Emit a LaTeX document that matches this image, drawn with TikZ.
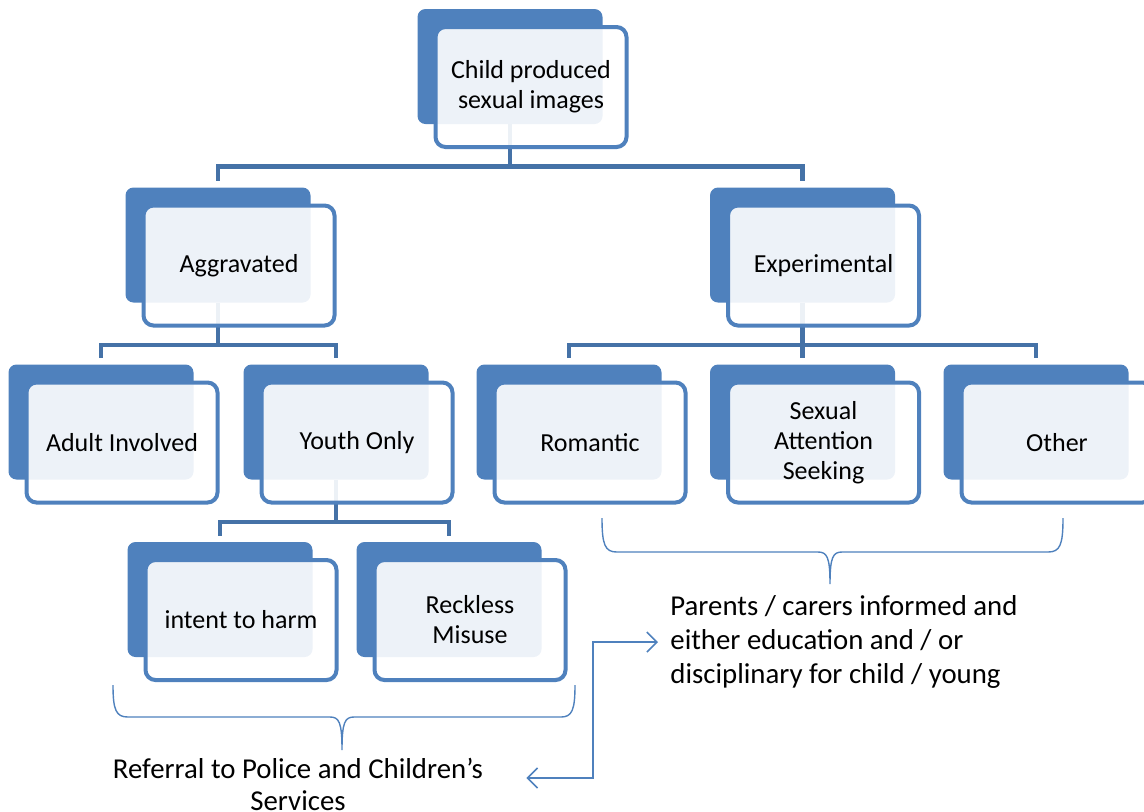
\documentclass[tikz,border=0pt]{standalone}
\usepackage{fontspec}
\setmainfont{Carlito}
\usetikzlibrary{arrows.meta}
\definecolor{boxblue}{RGB}{79,129,189}
\definecolor{linkblue}{RGB}{69,114,167}
\tikzset{
    backbox/.style={fill=boxblue, rounded corners=4pt, minimum width=92.5pt, minimum height=57.5pt, inner sep=0pt},
    frontbox/.style={draw=boxblue, line width=2pt, fill=white, fill opacity=0.9, text opacity=1, rounded corners=5pt,
        minimum width=95.5pt, minimum height=60pt, inner sep=0pt, align=center, font=\fontsize{13}{15}\selectfont},
    link/.style={draw=linkblue, line width=2.2pt},
    brace/.style={draw=boxblue, line width=0.7pt},
    pointer/.style={draw=boxblue, line width=0.8pt, {Straight Barb[length=5pt,width=10pt]}-{Straight Barb[length=5pt,width=10pt]}},
    note/.style={inner sep=0pt}
}
\def\boxlist{top/531/87/{Child produced\\sexual images}, aggr/239/265.5/Aggravated, exper/823.5/265.5/Experimental,
    adult/122/442.5/Adult Involved, youth/357/442.5/Youth Only, romantic/590/442.5/Romantic,
    seeking/823.5/442.5/{Sexual\\Attention\\Seeking}, other/1057/442.5/Other,
    harm/241/620/intent to harm, misuse/470/620/{Reckless\\Misuse}}

\begin{document}
\begin{tikzpicture}[x=0.5pt, y=-0.5pt]
    \useasboundingbox (0,0) rectangle (1144,811);

    % Solid boxes at the back
    \foreach \name/\x/\y/\txt in \boxlist {
        \node[backbox] (\name-b) at (\x-21,\y-20.5) {};
    }

    % Tree connectors
    \foreach \from/\to in {top/aggr, top/exper, aggr/adult, aggr/youth, exper/romantic, exper/seeking, exper/other, youth/harm, youth/misuse} {
        \draw[link] (\from-b.south) -- ++(0,42) -| ([yshift=3pt]\to-b.north);
    }

    % Framed boxes in front with the labels
    \foreach \name/\x/\y/\txt in \boxlist {
        \node[frontbox] (\name) at (\x,\y) {\txt};
    }

    % Braces under both groups
    \draw[brace] (113,685) .. controls (113,710) and (116,717) .. (128,717) -- (330,717)
        .. controls (339,717) and (342,722) .. (342,750) .. controls (342,722) and (345,717) .. (354,717)
        -- (561,717) .. controls (572,717) and (575,710) .. (575,685);
    \draw[brace] (602,518) .. controls (602,545) and (605,552) .. (617,552) -- (818,552)
        .. controls (827,552) and (830,557) .. (830,584) .. controls (830,557) and (833,552) .. (842,552)
        -- (1048,552) .. controls (1060,552) and (1063,545) .. (1063,518);

    % Outcomes
    \node[note, anchor=west, align=left, font=\fontsize{14.4}{17}\selectfont] (parents) at (670,642)
        {Parents / carers informed and\\either education and / or\\disciplinary for child / young};
    \node[note, align=center, font=\fontsize{14.4}{16}\selectfont] (referral) at (298,784)
        {Referral to Police and Children’s\\Services};

    \draw[pointer] ([xshift=-6pt]parents.west) -- ++(-65,0) |- ([xshift=21.5pt,yshift=3pt]referral.east);
\end{tikzpicture}
\end{document}
